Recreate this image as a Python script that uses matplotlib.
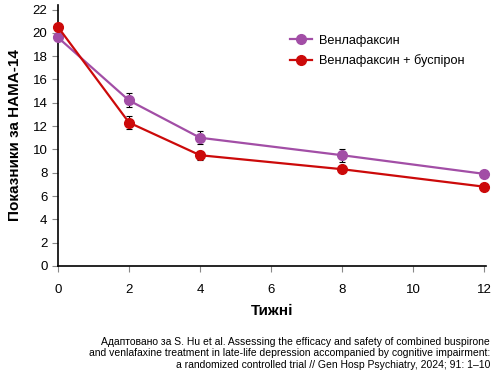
import matplotlib
matplotlib.use("Agg")
import matplotlib.pyplot as plt
from matplotlib.lines import Line2D

plt.rcParams['font.family'] = ['Liberation Sans', 'DejaVu Sans']

weeks = [0, 2, 4, 8, 12]
venla = [19.6, 14.2, 11.0, 9.5, 7.9]
venla_err = [0.0, 0.6, 0.55, 0.55, 0.0]
combo = [20.5, 12.3, 9.5, 8.3, 6.8]
combo_err = [0.0, 0.55, 0.4, 0.0, 0.0]
labels = ["Венлафаксин", "Венлафаксин + буспірон"]
xticks = [0, 2, 4, 6, 8, 10, 12]
yticks = list(range(0, 23, 2))

fig = plt.figure(figsize=(4.93, 3.73), dpi=100)
ax = fig.add_axes([0.1176, 0.287, 0.868, 0.700])

c1 = '#a24ea6'
c2 = '#cc0a0a'
ax.errorbar(weeks, venla, yerr=venla_err, color=c1, lw=1.6, marker='o', ms=7,
            ecolor='black', elinewidth=0.8, capsize=2, capthick=0.8,
            clip_on=False, zorder=3)
ax.errorbar(weeks, combo, yerr=combo_err, color=c2, lw=1.6, marker='o', ms=7,
            ecolor='black', elinewidth=0.8, capsize=2, capthick=0.8,
            clip_on=False, zorder=4)

ax.set_xlim(0, 12.05)
ax.set_ylim(0, 22.4)
ax.set_xticks(xticks)
ax.set_yticks(yticks)
ax.spines['top'].set_visible(False)
ax.spines['right'].set_visible(False)
ax.spines['left'].set_linewidth(1.2)
ax.spines['bottom'].set_linewidth(1.2)
ax.tick_params(axis='both', labelsize=9.5, color='#888888', length=4, width=0.8)
ax.tick_params(axis='x', pad=9)
ax.set_xlabel("Тижні", fontsize=11, fontweight='bold', labelpad=6)
ax.set_ylabel("Показники за HAMA-14", fontsize=11, fontweight='bold', labelpad=8)

handles = [Line2D([], [], color=c1, lw=1.6, marker='o', ms=7),
           Line2D([], [], color=c2, lw=1.6, marker='o', ms=7)]
ax.legend(handles, labels, loc='upper left', bbox_to_anchor=(0.515, 0.93), frameon=False,
          fontsize=9.2, handlelength=1.7, handletextpad=0.6, labelspacing=0.6)

fig.text(0.994, 0.008,
         "Адаптовано за S. Hu et al. Assessing the efficacy and safety of combined buspirone\n"
         "and venlafaxine treatment in late-life depression accompanied by cognitive impairment:\n"
         "a randomized controlled trial // Gen Hosp Psychiatry, 2024; 91: 1–10",
         ha='right', va='bottom', fontsize=7.5, multialignment='right', linespacing=1.2)

fig.savefig("out.png", dpi=100)
